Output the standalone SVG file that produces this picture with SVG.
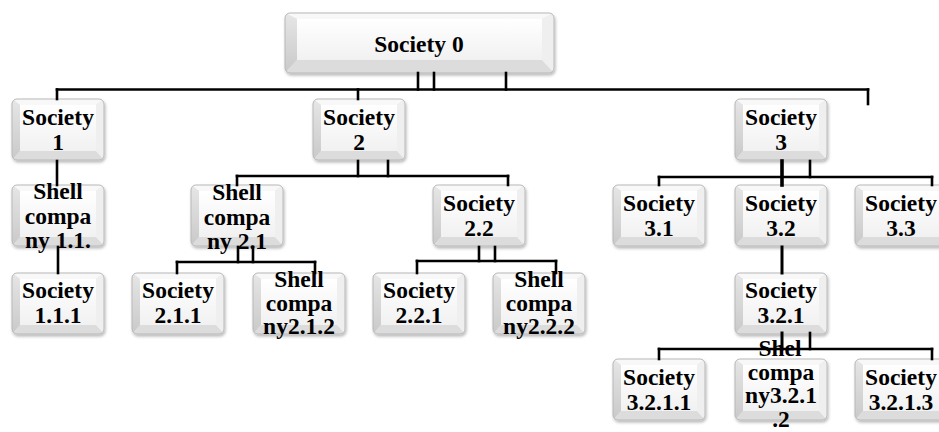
<svg xmlns="http://www.w3.org/2000/svg" xmlns:xlink="http://www.w3.org/1999/xlink" width="939" height="432" viewBox="0 0 939 432">
<style>
.t{font-family:'Liberation Serif','Tinos','Times New Roman','DejaVu Serif',serif;font-weight:700;font-size:23.5px;text-anchor:middle;fill:#000}
.c line{stroke:#000;stroke-width:2.6;stroke-linecap:square}
.bx{filter:url(#sh)}
</style>
<defs>
<filter id="sh" x="-10%" y="-10%" width="125%" height="135%"><feDropShadow dx="1" dy="2" stdDeviation="1.4" flood-color="#000" flood-opacity="0.28"/></filter>
<linearGradient id="gIn" x1="0" y1="0" x2="0" y2="1"><stop offset="0" stop-color="#ffffff"/><stop offset="1" stop-color="#f1f1f1"/></linearGradient>
<linearGradient id="gL" x1="0" y1="0" x2="0" y2="1"><stop offset="0" stop-color="#e6e6e6"/><stop offset="1" stop-color="#c9c9c9"/></linearGradient>
<clipPath id="cb"><rect width="92" height="61" rx="5"/></clipPath>
<clipPath id="cb0"><rect width="269" height="60" rx="5"/></clipPath>
<g id="box">
<g clip-path="url(#cb)">
<rect width="92" height="61" fill="#e6e6e6"/>
<polygon points="0,0 92,0 84,6 8,6" fill="#f8f8f8"/>
<polygon points="0,0 8,6 8,52 0,61" fill="url(#gL)"/>
<polygon points="0,61 8,52 84,52 92,61" fill="#dcdcdc"/>
<polygon points="92,0 84,6 84,52 92,61" fill="#efefef"/>
<rect x="8" y="6" width="76" height="46" fill="url(#gIn)"/>
</g>
<rect width="92" height="61" rx="5" fill="none" stroke="#b8b8b8" stroke-width="1"/>
</g>
<g id="box0">
<g clip-path="url(#cb0)">
<rect width="269" height="60" fill="#e6e6e6"/>
<polygon points="0,0 269,0 257,6 12,6" fill="#f8f8f8"/>
<polygon points="0,0 12,6 12,47 0,60" fill="url(#gL)"/>
<polygon points="0,60 12,47 257,47 269,60" fill="#dcdcdc"/>
<polygon points="269,0 257,6 257,47 269,60" fill="#efefef"/>
<rect x="12" y="6" width="245" height="41" fill="url(#gIn)"/>
</g>
<rect width="269" height="60" rx="5" fill="none" stroke="#b8b8b8" stroke-width="1"/>
</g>
</defs>
<rect width="939" height="432" fill="#fff"/>

<g id="n0"><use href="#box0" class="bx" x="285" y="13"/><text class="t" x="419" y="52">Society 0</text></g>

<g id="n1"><use href="#box" class="bx" x="12" y="99"/><text class="t" x="58" y="125"><tspan x="58">Society</tspan><tspan x="58" dy="25">1</tspan></text></g>
<g id="n2"><use href="#box" class="bx" x="313" y="99"/><text class="t" x="359" y="125"><tspan x="359">Society</tspan><tspan x="359" dy="25">2</tspan></text></g>
<g id="n3"><use href="#box" class="bx" x="735" y="99"/><text class="t" x="781" y="125"><tspan x="781">Society</tspan><tspan x="781" dy="25">3</tspan></text></g>

<g id="n11"><use href="#box" class="bx" x="12" y="185"/><text class="t" x="58" y="199"><tspan x="58">Shell</tspan><tspan x="58" dy="24.5">compa</tspan><tspan x="58" dy="24.5">ny 1.1.</tspan></text></g>
<g id="n21"><use href="#box" class="bx" x="191" y="185"/><text class="t" x="237" y="200"><tspan x="237">Shell</tspan><tspan x="237" dy="24.5">compa</tspan><tspan x="237" dy="24.5">ny 2.1</tspan></text></g>
<g id="n22"><use href="#box" class="bx" x="433" y="185"/><text class="t" x="479" y="211"><tspan x="479">Society</tspan><tspan x="479" dy="25">2.2</tspan></text></g>
<g id="n31"><use href="#box" class="bx" x="613" y="185"/><text class="t" x="659" y="211"><tspan x="659">Society</tspan><tspan x="659" dy="25">3.1</tspan></text></g>
<g id="n32"><use href="#box" class="bx" x="735" y="185"/><text class="t" x="781" y="211"><tspan x="781">Society</tspan><tspan x="781" dy="25">3.2</tspan></text></g>
<g id="n33"><use href="#box" class="bx" x="855" y="185"/><text class="t" x="901" y="211"><tspan x="901">Society</tspan><tspan x="901" dy="25">3.3</tspan></text></g>

<g id="n111"><use href="#box" class="bx" x="12" y="273"/><text class="t" x="58" y="298"><tspan x="58">Society</tspan><tspan x="58" dy="25">1.1.1</tspan></text></g>
<g id="n211"><use href="#box" class="bx" x="132" y="273"/><text class="t" x="178" y="298"><tspan x="178">Society</tspan><tspan x="178" dy="25">2.1.1</tspan></text></g>
<g id="n212"><use href="#box" class="bx" x="253" y="273"/><text class="t" x="299" y="287"><tspan x="299">Shell</tspan><tspan x="299" dy="23.5">compa</tspan><tspan x="299" dy="23.5">ny2.1.2</tspan></text></g>
<g id="n221"><use href="#box" class="bx" x="373" y="273"/><text class="t" x="419" y="298"><tspan x="419">Society</tspan><tspan x="419" dy="25">2.2.1</tspan></text></g>
<g id="n222"><use href="#box" class="bx" x="493" y="273"/><text class="t" x="539" y="287"><tspan x="539">Shell</tspan><tspan x="539" dy="23.5">compa</tspan><tspan x="539" dy="23.5">ny2.2.2</tspan></text></g>
<g id="n321"><use href="#box" class="bx" x="735" y="273"/><text class="t" x="781" y="298"><tspan x="781">Society</tspan><tspan x="781" dy="25">3.2.1</tspan></text></g>

<g id="n3211"><use href="#box" class="bx" x="613" y="359"/><text class="t" x="659" y="385"><tspan x="659">Society</tspan><tspan x="659" dy="25">3.2.1.1</tspan></text></g>
<g id="n3212"><use href="#box" class="bx" x="735" y="359"/><text class="t" x="780" y="356"><tspan x="780">Shel</tspan><tspan x="781" dy="23.5">compa</tspan><tspan x="781" dy="23.5">ny3.2.1</tspan><tspan x="781" dy="23.5">.2</tspan></text></g>
<g id="n3213"><use href="#box" class="bx" x="855" y="359"/><text class="t" x="901" y="385"><tspan x="901">Society</tspan><tspan x="901" dy="25">3.2.1.3</tspan></text></g>

<g id="connectors" class="c">
<line x1="57" y1="89.5" x2="868" y2="89.5"/>
<line x1="418" y1="73" x2="418" y2="89.5"/>
<line x1="434" y1="73" x2="434" y2="89.5"/>
<line x1="506" y1="73" x2="506" y2="89.5"/>
<line x1="57" y1="89.5" x2="57" y2="99"/>
<line x1="358" y1="89.5" x2="358" y2="99"/>
<line x1="868" y1="89.5" x2="868" y2="104"/>
<line x1="57" y1="161" x2="57" y2="185"/>
<line x1="58" y1="247" x2="58" y2="273"/>
<line x1="358" y1="161" x2="358" y2="176"/>
<line x1="388" y1="161" x2="388" y2="176"/>
<line x1="237" y1="176" x2="508" y2="176"/>
<line x1="237" y1="176" x2="237" y2="185"/>
<line x1="508" y1="176" x2="508" y2="185"/>
<line x1="238" y1="247" x2="238" y2="262"/>
<line x1="253" y1="247" x2="253" y2="262"/>
<line x1="177" y1="262" x2="315" y2="262"/>
<line x1="177" y1="262" x2="177" y2="273"/>
<line x1="315" y1="262" x2="315" y2="273"/>
<line x1="479" y1="247" x2="479" y2="261"/>
<line x1="495" y1="247" x2="495" y2="261"/>
<line x1="417" y1="261" x2="556" y2="261"/>
<line x1="417" y1="261" x2="417" y2="273"/>
<line x1="556" y1="261" x2="556" y2="273"/>
<line x1="782" y1="161" x2="782" y2="185" style="stroke-width:3.6"/>
<line x1="810" y1="161" x2="810" y2="177"/>
<line x1="659" y1="177" x2="932" y2="177"/>
<line x1="659" y1="177" x2="659" y2="185"/>
<line x1="932" y1="177" x2="932" y2="185"/>
<line x1="782" y1="247" x2="782" y2="273" style="stroke-width:3"/>
<line x1="782" y1="333" x2="782" y2="349" style="stroke-width:3"/>
<line x1="810" y1="333" x2="810" y2="349"/>
<line x1="659" y1="349" x2="932" y2="349"/>
<line x1="659" y1="349" x2="659" y2="359"/>
<line x1="932" y1="349" x2="932" y2="359"/>
</g>
</svg>
